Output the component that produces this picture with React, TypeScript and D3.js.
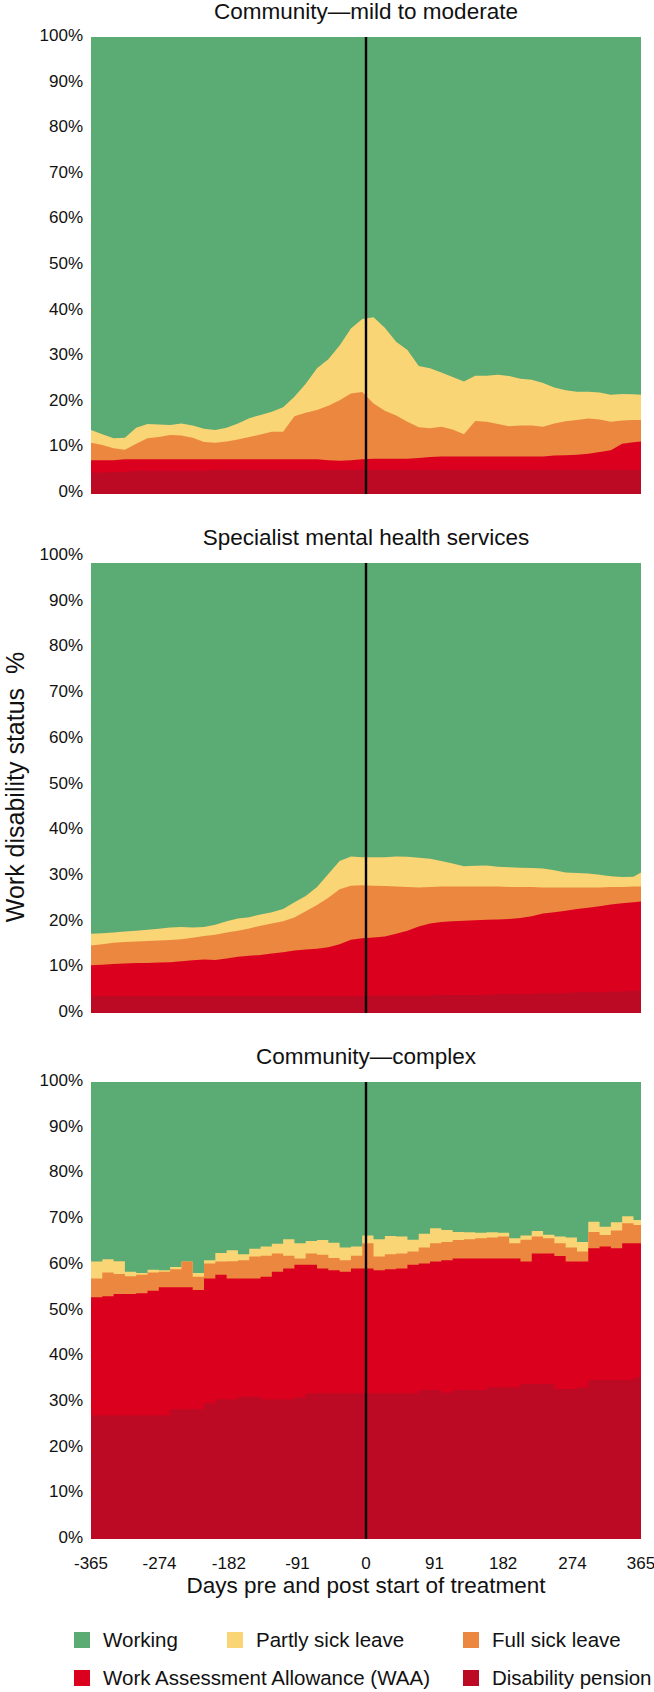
import React from "react";
import * as d3 from "d3";

// days relative to start of treatment
const days = [
  -365, -350, -335, -320, -305, -290, -275, -260, -245, -230, -215, -200, -185, -170, -155, -140, -125,
  -110, -95, -80, -65, -50, -35, -20, -5, 10, 25, 40, 55, 70, 85, 100, 115, 130, 145, 160, 175, 190,
  205, 220, 235, 250, 265, 280, 295, 310, 325, 340, 355, 365,
];

const dayTicks = [-365, -274, -182, -91, 0, 91, 182, 274, 365];
const pctTicks = [0, 10, 20, 30, 40, 50, 60, 70, 80, 90, 100];

// Community - mild to moderate (% of patients in each status)
const mildPension = [
  4.7, 4.7, 4.8, 4.8, 5.1, 5.1, 5.1, 5.1, 5.1, 5.1, 5.1, 5.3, 5.3, 5.3, 5.3, 5.3, 5.3, 5.3, 5.3, 5.3,
  5.3, 5.3, 5.3, 5.3, 5.3, 5.3, 5.3, 5.3, 5.3, 5.3, 5.3, 5.3, 5.3, 5.3, 5.3, 5.3, 5.3, 5.3, 5.3, 5.3,
  5.3, 5.3, 5.3, 5.3, 5.3, 5.3, 5.3, 5.3, 5.3, 5.2,
];
const mildWaa = [
  2.7, 2.7, 2.6, 2.8, 2.5, 2.5, 2.5, 2.5, 2.5, 2.5, 2.5, 2.3, 2.3, 2.3, 2.3, 2.3, 2.3, 2.3, 2.3, 2.3,
  2.3, 2.1, 2.0, 2.1, 2.3, 2.4, 2.4, 2.4, 2.4, 2.6, 2.8, 2.9, 2.9, 2.9, 2.9, 2.9, 2.9, 2.9, 2.9, 2.9,
  2.9, 3.1, 3.2, 3.3, 3.5, 3.9, 4.3, 5.7, 6.0, 6.3,
];
const mildFull = [
  3.8, 3.3, 2.6, 2.1, 3.4, 4.6, 4.9, 5.3, 5.2, 4.7, 3.8, 3.6, 3.9, 4.3, 4.9, 5.4, 6.0, 6.0, 9.4, 10.2,
  10.8, 11.9, 13.2, 14.6, 14.7, 12.1, 10.5, 9.5, 8.1, 6.7, 6.3, 6.5, 5.9, 4.9, 7.8, 7.6, 7.1, 6.6, 6.8, 6.8,
  6.5, 7.0, 7.4, 7.6, 7.7, 7.1, 6.2, 5.1, 4.9, 4.7,
];
const mildPartly = [
  2.8, 2.4, 2.2, 2.6, 3.5, 3.1, 2.7, 2.2, 2.6, 2.7, 2.9, 2.8, 3.0, 3.5, 4.1, 4.3, 4.4, 5.4, 4.3, 6.3,
  9.1, 10.2, 12.0, 14.2, 16.0, 18.9, 18.2, 16.1, 15.7, 13.4, 13.1, 11.9, 11.5, 11.5, 9.9, 10.1, 10.8, 11.0, 10.2, 10.0,
  9.6, 7.9, 6.8, 6.2, 5.9, 5.9, 5.9, 5.8, 5.6, 5.5,
];

// Specialist mental health services
const specPension = [
  3.8, 3.8, 3.8, 3.8, 3.8, 3.8, 3.8, 3.8, 3.8, 3.8, 3.8, 3.8, 3.8, 3.8, 3.8, 3.8, 3.8, 3.8, 3.8, 3.8,
  3.8, 3.8, 3.8, 3.8, 3.8, 3.9, 3.9, 3.9, 3.9, 3.9, 3.9, 4.0, 4.0, 4.0, 4.0, 4.0, 4.2, 4.2, 4.2, 4.2,
  4.4, 4.4, 4.4, 4.6, 4.6, 4.6, 4.8, 4.8, 5.0, 5.0,
];
const specWaa = [
  6.8, 6.9, 7.1, 7.2, 7.3, 7.3, 7.4, 7.5, 7.7, 7.9, 8.1, 8.0, 8.3, 8.7, 8.9, 9.1, 9.4, 9.7, 10.1, 10.3,
  10.5, 10.8, 11.5, 12.5, 12.8, 12.9, 13.1, 13.7, 14.4, 15.3, 16.0, 16.2, 16.4, 16.5, 16.6, 16.7, 16.6, 16.7, 16.9, 17.3,
  17.7, 18.0, 18.3, 18.5, 18.8, 19.1, 19.3, 19.6, 19.6, 19.8,
];
const specFull = [
  4.4, 4.6, 4.7, 4.8, 4.8, 4.9, 4.9, 4.9, 4.9, 5.0, 5.2, 5.6, 5.8, 5.8, 6.1, 6.5, 6.7, 6.9, 7.3, 8.5,
  9.7, 11.0, 12.2, 12.0, 11.8, 11.5, 11.2, 10.5, 9.7, 8.7, 8.1, 7.9, 7.7, 7.6, 7.5, 7.4, 7.3, 7.1, 6.9, 6.5,
  5.8, 5.5, 5.2, 4.8, 4.5, 4.2, 3.9, 3.6, 3.5, 3.3,
];
const specPartly = [
  2.6, 2.4, 2.3, 2.3, 2.4, 2.5, 2.6, 2.8, 2.7, 2.3, 2.0, 2.2, 2.5, 2.7, 2.5, 2.5, 2.5, 2.7, 3.4, 3.4,
  4.0, 5.3, 6.3, 6.5, 6.2, 6.3, 6.4, 6.7, 6.7, 6.6, 6.3, 5.7, 5.1, 4.5, 4.6, 4.7, 4.4, 4.4, 4.3, 4.2,
  4.2, 3.8, 3.3, 3.2, 3.1, 2.8, 2.4, 2.2, 2.2, 3.1,
];

// Community - complex
const complexPension = [
  27.1, 27.1, 27.1, 27.1, 27.1, 27.1, 27.1, 28.4, 28.4, 28.4, 29.7, 30.6, 30.6, 31.1, 31.1, 30.6, 30.6, 30.6, 31.0, 31.9,
  31.9, 31.9, 31.9, 31.9, 31.9, 31.9, 31.9, 31.9, 31.9, 32.6, 32.6, 32.0, 32.6, 32.6, 32.6, 33.2, 33.2, 33.2, 33.9, 33.9,
  33.9, 32.8, 32.8, 33.2, 34.8, 34.8, 34.8, 34.8, 35.4, 34.4,
];
const complexWaa = [
  25.8, 26.0, 26.5, 26.5, 26.7, 27.2, 28.0, 26.7, 26.7, 26.1, 27.3, 27.2, 26.4, 25.9, 25.9, 26.8, 27.9, 28.6, 29.0, 28.1,
  27.3, 26.9, 26.6, 27.3, 27.3, 26.9, 27.1, 27.3, 28.1, 27.7, 28.1, 29.0, 28.8, 28.8, 28.8, 28.2, 28.2, 28.2, 26.8, 28.6,
  28.6, 29.1, 27.9, 27.5, 28.8, 29.2, 28.8, 29.9, 29.3, 29.9,
];
const complexFull = [
  4.1, 5.2, 4.4, 3.9, 4.0, 4.0, 3.4, 3.9, 5.6, 2.9, 3.3, 2.9, 3.8, 4.0, 4.8, 4.6, 4.0, 2.8, 1.4, 2.5,
  3.0, 2.7, 2.5, 2.8, 5.5, 3.0, 3.3, 3.3, 2.9, 3.5, 4.0, 4.0, 4.0, 4.2, 4.4, 4.6, 4.8, 3.3, 4.8, 3.7,
  3.3, 2.8, 3.1, 2.2, 3.6, 2.5, 3.9, 4.4, 4.0, 2.2,
];
const complexPartly = [
  3.7, 2.9, 2.8, 1.0, 0.4, 0.6, 0.3, 0.5, 0.0, 0.8, 0.7, 1.9, 2.4, 1.3, 1.7, 2.0, 2.1, 3.6, 3.3, 2.7,
  3.2, 3.3, 2.8, 2.0, 1.7, 3.8, 4.0, 3.7, 2.6, 3.0, 3.3, 2.6, 1.8, 1.5, 1.2, 1.1, 0.8, 1.1, 0.9, 1.2,
  0.8, 1.5, 2.2, 2.1, 2.2, 1.8, 1.8, 1.5, 1.1, 0.4,
];

const statusKeys = ["pension", "waa", "full", "partly"];
const colors: Record<string, string> = {
  working: "#5bab74",
  partly: "#f9d575",
  full: "#ec8740",
  waa: "#dc001f",
  pension: "#bd0a24",
};

const legendItems = [
  { key: "working", label: "Working" },
  { key: "partly", label: "Partly sick leave" },
  { key: "full", label: "Full sick leave" },
  { key: "waa", label: "Work Assessment Allowance (WAA)" },
  { key: "pension", label: "Disability pension" },
];
const legendCols = [74, 227, 463, 74, 463];
const legendRows = [1632, 1632, 1632, 1670, 1670];

const panels = [
  {
    title: "Community\u2014mild to moderate",
    top: 37, bottom: 494, labelTop: 35, labelBottom: 491,
    series: [mildPension, mildWaa, mildFull, mildPartly],
    curve: d3.curveLinear,
  },
  {
    title: "Specialist mental health services",
    top: 563, bottom: 1013, labelTop: 554, labelBottom: 1011,
    series: [specPension, specWaa, specFull, specPartly],
    curve: d3.curveLinear,
  },
  {
    title: "Community\u2014complex",
    top: 1082, bottom: 1539, labelTop: 1080, labelBottom: 1537,
    series: [complexPension, complexWaa, complexFull, complexPartly],
    curve: d3.curveStepAfter,
  },
];

const font = "'Liberation Sans', Arial, Helvetica, sans-serif";

const x = d3.scaleLinear().domain([-365, 365]).range([91, 641]);

function Panel({ p }: { p: (typeof panels)[number] }) {
  const y = d3.scaleLinear().domain([0, 100]).range([p.bottom, p.top]);
  const yLabel = d3.scaleLinear().domain([0, 100]).range([p.labelBottom, p.labelTop]);

  const rows = days.map((day, i) => {
    const row: Record<string, number> = { day };
    statusKeys.forEach((k, j) => (row[k] = p.series[j][i]));
    return row;
  });
  const stacked = d3.stack<Record<string, number>>().keys(statusKeys)(rows);

  // each layer is painted from 0% up to its cumulative top, topmost first
  const fromZero = d3
    .area<d3.SeriesPoint<Record<string, number>>>()
    .x((d) => x(d.data.day))
    .y0(y(0))
    .y1((d) => y(d[1]))
    .curve(p.curve);

  const working = d3
    .area<number>()
    .x((d) => x(d))
    .y0(y(0))
    .y1(y(100));

  return (
    <g>
      <text x={x(0)} y={p.top - 18} textAnchor="middle" fontSize={22.5} fill="#111">
        {p.title}
      </text>
      <path d={working(days) || ""} fill={colors.working} />
      {stacked
        .slice()
        .reverse()
        .map((s) => (
          <path key={s.key} d={fromZero(s) || ""} fill={colors[s.key]} />
        ))}
      <line x1={x(0)} x2={x(0)} y1={y(100)} y2={y(0)} stroke="#000" strokeWidth={2.4} />
      {pctTicks.map((t) => (
        <text key={t} x={83} y={yLabel(t) + 6} textAnchor="end" fontSize={17} fill="#111">
          {t}%
        </text>
      ))}
    </g>
  );
}

export default function App() {
  return (
    <svg
      width={654}
      height={1692}
      style={{ position: "absolute", left: 0, top: 0, background: "#fff" }}
      fontFamily={font}
    >
      <rect width={654} height={1692} fill="#fff" />
      {panels.map((p) => (
        <Panel key={p.title} p={p} />
      ))}
      {dayTicks.map((d) => (
        <text key={d} x={x(d)} y={1569} textAnchor="middle" fontSize={17} fill="#111">
          {d}
        </text>
      ))}
      <text x={x(0)} y={1593} textAnchor="middle" fontSize={22.5} fill="#111">
        Days pre and post start of treatment
      </text>
      <text
        transform="translate(24,787) rotate(-90)"
        textAnchor="middle"
        fontSize={25}
        fill="#111"
        style={{ whiteSpace: "pre" }}
      >
        {"Work disability status  %"}
      </text>
      {legendItems.map((item, i) => (
        <g key={item.key} transform={`translate(${legendCols[i]},${legendRows[i]})`}>
          <rect width={16} height={16} fill={colors[item.key]} />
          <text x={29} y={15} fontSize={20.5} fill="#111">
            {item.label}
          </text>
        </g>
      ))}
    </svg>
  );
}
